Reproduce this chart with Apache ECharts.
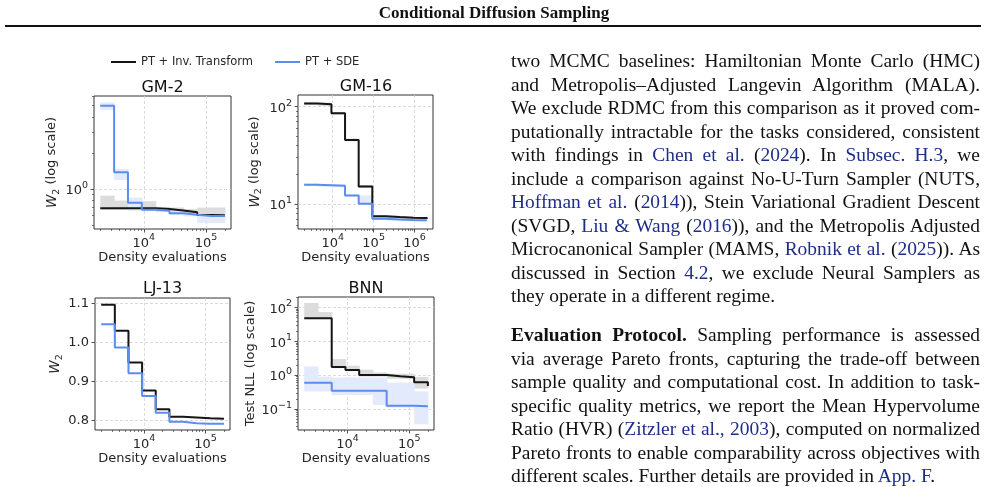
<!DOCTYPE html>
<html>
<head>
<meta charset="utf-8">
<script src="https://cdn.jsdelivr.net/npm/echarts@6/dist/echarts.min.js"></script>
<style>
body{margin:0;background:#fff;}
#main{position:absolute;left:0;top:0;width:988px;height:487px;}
#text{position:absolute;left:511px;top:0;width:469px;font-family:"Liberation Serif","Times New Roman",serif;font-size:19.45px;color:#111;}
.l{position:absolute;left:0;width:469px;height:24px;line-height:24px;white-space:nowrap;text-align:justify;text-align-last:justify;}
.l.last{text-align:left;text-align-last:left;}
#text a{color:#1f2d8a;text-decoration:none;}
</style>
</head>
<body>
<div id="main"></div>
<div id="text">
  <div class="l" style="top:49px">two MCMC baselines: Hamiltonian Monte Carlo (HMC)</div>
  <div class="l" style="top:72.5px">and Metropolis–Adjusted Langevin Algorithm (MALA).</div>
  <div class="l" style="top:96px">We exclude RDMC from this comparison as it proved com-</div>
  <div class="l" style="top:119.5px">putationally intractable for the tasks considered, consistent</div>
  <div class="l" style="top:143px">with findings in <a>Chen et al.</a> (<a>2024</a>). In <a>Subsec. H.3</a>, we</div>
  <div class="l" style="top:166.5px">include a comparison against No-U-Turn Sampler (NUTS,</div>
  <div class="l" style="top:190px"><a>Hoffman et al.</a> (<a>2014</a>)), Stein Variational Gradient Descent</div>
  <div class="l" style="top:213.5px">(SVGD, <a>Liu &amp; Wang</a> (<a>2016</a>)), and the Metropolis Adjusted</div>
  <div class="l" style="top:237px">Microcanonical Sampler (MAMS, <a>Robnik et al.</a> (<a>2025</a>)). As</div>
  <div class="l" style="top:260.5px">discussed in Section <a>4.2</a>, we exclude Neural Samplers as</div>
  <div class="l last" style="top:284px">they operate in a different regime.</div>
  <div class="l" style="top:323.3px"><b>Evaluation Protocol.</b> Sampling performance is assessed</div>
  <div class="l" style="top:346.8px">via average Pareto fronts, capturing the trade-off between</div>
  <div class="l" style="top:370.3px">sample quality and computational cost. In addition to task-</div>
  <div class="l" style="top:393.8px">specific quality metrics, we report the Mean Hypervolume</div>
  <div class="l" style="top:417.3px">Ratio (HVR) (<a>Zitzler et al., 2003</a>), computed on normalized</div>
  <div class="l" style="top:440.8px">Pareto fronts to enable comparability across objectives with</div>
  <div class="l last" style="top:464.3px">different scales. Further details are provided in <a>App. F</a>.</div>
</div>
<script>
// density evaluation grids (x positions of the steps)
var xShort = [2000, 3336, 5565, 9283, 15486, 25832, 43089, 71880, 119904, 200000];
var xLong = [2000, 4309, 9283, 20000, 43089, 92832, 200000, 430887, 928318, 2000000];

// GM-2
var gm2Inv   = [0.689, 0.689, 0.689, 0.689, 0.68, 0.66, 0.638, 0.606, 0.603, 0.603];
var gm2InvLo = [0.67, 0.67, 0.67, 0.67, 0.665, 0.645, 0.625, 0.56, 0.56, 0.56];
var gm2InvHi = [0.88, 0.80, 0.80, 0.79, 0.71, 0.70, 0.68, 0.70, 0.70, 0.70];
var gm2Sde   = [4.98, 1.38, 0.768, 0.671, 0.658, 0.626, 0.61, 0.594, 0.594, 0.594];
var gm2SdeLo = [4.6, 1.19, 0.66, 0.655, 0.64, 0.605, 0.59, 0.52, 0.52, 0.52];
var gm2SdeHi = [5.3, 1.47, 0.85, 0.70, 0.675, 0.645, 0.63, 0.615, 0.615, 0.615];

// GM-16
var gm16Inv   = [108, 106, 85.5, 45.5, 15.1, 7.42, 7.3, 7.2, 7.13, 7.0];
var gm16InvLo = [104, 102, 83, 44, 14.6, 7.2, 7.1, 7.0, 6.95, 6.85];
var gm16InvHi = [112, 110, 88, 47, 15.6, 7.6, 7.5, 7.4, 7.3, 7.15];
var gm16Sde   = [15.7, 15.5, 15.3, 12.2, 10.0, 7.0, 6.9, 6.8, 6.75, 6.7];
var gm16SdeLo = [15.2, 15.0, 14.8, 11.9, 9.9, 6.8, 6.7, 6.6, 6.55, 6.5];
var gm16SdeHi = [16.2, 16.0, 15.8, 12.5, 12.2, 7.2, 7.1, 7.0, 6.95, 6.9];

// LJ-13
var lj13Inv = [1.097, 1.030, 0.949, 0.877, 0.829, 0.810, 0.808, 0.806, 0.805, 0.805];
var lj13Sde = [1.047, 0.987, 0.921, 0.863, 0.820, 0.797, 0.793, 0.792, 0.792, 0.792];

// BNN
var bnnInv   = [48, 48, 1.75, 1.42, 1.0, 1.0, 0.92, 0.86, 0.62, 0.48];
var bnnInvLo = [45, 45, 1.6, 1.3, 0.9, 0.9, 0.78, 0.78, 0.4, 0.4];
var bnnInvHi = [135, 73, 3.0, 1.9, 1.45, 1.2, 1.1, 1.1, 0.88, 0.88];
var bnnSde   = [0.59, 0.59, 0.343, 0.343, 0.343, 0.343, 0.124, 0.124, 0.12, 0.12];
var bnnSdeLo = [0.33, 0.33, 0.26, 0.26, 0.26, 0.13, 0.11, 0.11, 0.035, 0.035];
var bnnSdeHi = [1.8, 0.9, 0.85, 0.85, 0.85, 0.85, 0.6, 0.6, 0.33, 0.33];

// tick labels
var xTicksShort = [1e4, 1e5];
var xTicksLong = [1e4, 1e5, 1e6];
var gm2YTicks = [1];
var gm16YTicks = [10, 100];
var lj13YTicks = [0.8, 0.9, 1.0, 1.1];
var bnnYTicks = [0.1, 1, 10, 100];

var INK = '#262626';
var BLACK = '#151515';
var BLUE = '#5b8def';
var FONT = 'DejaVu Sans';

// "10" with a raised exponent, like matplotlib's mathtext
function powLabel(v) {
  var e = Math.round(Math.log10(v));
  return '{b|10}{s|' + (e < 0 ? '−' + (-e) : e) + '}';
}
var powRich = {
  b: {fontSize: 13, fontFamily: FONT, color: INK, lineHeight: 17, verticalAlign: 'bottom'},
  s: {fontSize: 9.5, fontFamily: FONT, color: INK, lineHeight: 11, verticalAlign: 'top'}
};
function minorTicks(min, max) {
  var out = [];
  for (var e = Math.floor(Math.log10(min)); e <= Math.ceil(Math.log10(max)); e++) {
    for (var k = 2; k <= 9; k++) {
      var v = k * Math.pow(10, e);
      if (v >= min && v <= max) out.push(v);
    }
  }
  return out;
}
function pairs(xs, ys) { return xs.map(function (x, i) { return [x, ys[i]]; }); }
// one [x0, x1, lo, hi] item per step interval
function steps(xs, lo, hi) {
  var out = [];
  for (var i = 0; i < xs.length - 1; i++) out.push([xs[i], xs[i + 1], lo[i], hi[i]]);
  return out;
}

var W2LOG = '{i|W}{u|2}{n| (log scale)}';
var panels = [
  {title: 'GM-2', box: [94, 96, 137, 133], tx: 162.5, ty: 88, x: xShort, xMin: Math.pow(10, 3.2), xMax: Math.pow(10, 5.4), xTicks: xTicksShort,
   yLog: true, yMin: 0.463, yMax: 6.0, yTicks: gm2YTicks, yName: W2LOG, yGap: 31,
   inv: gm2Inv, invLo: gm2InvLo, invHi: gm2InvHi, sde: gm2Sde, sdeLo: gm2SdeLo, sdeHi: gm2SdeHi},
  {title: 'GM-16', box: [298, 95, 135, 134], tx: 366, ty: 87, x: xLong, xMin: Math.pow(10, 3.151), xMax: Math.pow(10, 6.451), xTicks: xTicksLong,
   yLog: true, yMin: 5.5, yMax: 131.9, yTicks: gm16YTicks, yName: W2LOG, yGap: 34,
   inv: gm16Inv, invLo: gm16InvLo, invHi: gm16InvHi, sde: gm16Sde, sdeLo: gm16SdeLo, sdeHi: gm16SdeHi},
  {title: 'LJ-13', box: [95, 298, 135, 132], tx: 162.5, ty: 288.5, x: xShort, xMin: Math.pow(10, 3.2), xMax: Math.pow(10, 5.4), xTicks: xTicksShort,
   yLog: false, yMin: 0.776, yMax: 1.114, yTicks: lj13YTicks, yName: '{i|W}{u|2}', yGap: 29,
   inv: lj13Inv, sde: lj13Sde},
  {title: 'BNN', box: [298, 297, 136, 133], tx: 366, ty: 288.5, x: xShort, xMin: Math.pow(10, 3.2), xMax: Math.pow(10, 5.4), xTicks: xTicksShort,
   yLog: true, yMin: 0.0239, yMax: 203, yTicks: bnnYTicks, yName: 'Test NLL (log scale)', yGap: 39,
   inv: bnnInv, invLo: bnnInvLo, invHi: bnnInvHi, sde: bnnSde, sdeLo: bnnSdeLo, sdeHi: bnnSdeHi}
];

var grids = [], xAxes = [], yAxes = [], series = [];
var graphics = [
  {type: 'text', x: 494, y: 14, style: {text: 'Conditional Diffusion Sampling', font: 'bold 17px "Liberation Serif"', fill: '#111', align: 'center', verticalAlign: 'middle'}},
  {type: 'line', shape: {x1: 5, y1: 26, x2: 981, y2: 26}, style: {stroke: '#111', lineWidth: 2}}
];
var tickStyle = {color: INK, width: 0.8};
var gridLine = {show: true, lineStyle: {type: [3, 2], color: '#d2d2d2', width: 0.8}};
var labelStyle = {fontSize: 13, color: INK, fontFamily: FONT};
var nameStyle = {
  fontSize: 13, fontFamily: FONT, color: INK,
  rich: {
    i: {fontStyle: 'italic', fontSize: 13.5, fontFamily: FONT, color: INK, lineHeight: 16, verticalAlign: 'top'},
    u: {fontSize: 9.5, fontFamily: FONT, color: INK, lineHeight: 16, verticalAlign: 'bottom', padding: [5, 0, 0, 0]},
    n: {fontSize: 13, fontFamily: FONT, color: INK, lineHeight: 16, verticalAlign: 'top'}
  }
};

panels.forEach(function (p, i) {
  grids.push({left: p.box[0], top: p.box[1], width: p.box[2], height: p.box[3], show: true, borderColor: '#333', borderWidth: 1, containLabel: false});
  graphics.push({type: 'text', x: p.tx, y: p.ty, style: {text: p.title, font: '16px "DejaVu Sans"', fill: '#111', align: 'center', verticalAlign: 'middle'}});

  xAxes.push({
    gridIndex: i, type: 'log', logBase: 10, min: p.xMin, max: p.xMax, position: 'bottom',
    axisLine: {show: false, onZero: false},
    axisTick: {show: true, length: 3.5, lineStyle: tickStyle, customValues: p.xTicks},
    axisLabel: Object.assign({customValues: p.xTicks, formatter: powLabel, margin: 4, rich: powRich}, labelStyle),
    splitLine: gridLine,
    name: 'Density evaluations', nameLocation: 'middle', nameGap: 21, nameTextStyle: labelStyle
  });
  xAxes.push({
    gridIndex: i, type: 'log', logBase: 10, min: p.xMin, max: p.xMax, position: 'bottom',
    axisLine: {show: false, onZero: false},
    axisTick: {show: true, length: 2, lineStyle: {color: INK, width: 0.6}, customValues: minorTicks(p.xMin, p.xMax)},
    axisLabel: {show: false}, splitLine: {show: false}
  });

  yAxes.push({
    gridIndex: i, type: p.yLog ? 'log' : 'value', logBase: 10, min: p.yMin, max: p.yMax, position: 'left',
    axisLine: {show: false, onZero: false},
    axisTick: {show: true, length: 3.5, lineStyle: tickStyle, customValues: p.yTicks},
    axisLabel: Object.assign({customValues: p.yTicks, margin: 6, rich: powRich,
      formatter: p.yLog ? powLabel : function (v) { return v.toFixed(1); }}, labelStyle),
    splitLine: gridLine,
    name: p.yName, nameLocation: 'middle', nameGap: p.yGap, nameRotate: 90, nameTextStyle: nameStyle
  });
  yAxes.push({
    gridIndex: i, type: p.yLog ? 'log' : 'value', logBase: 10, min: p.yMin, max: p.yMax, position: 'left',
    axisLine: {show: false, onZero: false},
    axisTick: {show: p.yLog, length: 2, lineStyle: {color: INK, width: 0.6}, customValues: p.yLog ? minorTicks(p.yMin, p.yMax) : []},
    axisLabel: {show: false}, splitLine: {show: false}
  });

  var ax = {xAxisIndex: 2 * i, yAxisIndex: 2 * i};
  function band(lo, hi, color) {
    series.push(Object.assign({
      type: 'custom', data: steps(p.x, lo, hi), silent: true, clip: true, z: 1,
      encode: {x: [0, 1], y: [2, 3]},
      renderItem: function (params, api) {
        var a = api.coord([api.value(0), api.value(3)]);
        var b = api.coord([api.value(1), api.value(2)]);
        return {type: 'rect', shape: {x: a[0], y: a[1], width: b[0] - a[0] + 0.6, height: b[1] - a[1]}, style: {fill: color}};
      }
    }, ax));
  }
  if (p.invLo) band(p.invLo, p.invHi, '#dcdcdc');
  if (p.sdeLo) band(p.sdeLo, p.sdeHi, '#e2eafb');

  series.push(Object.assign({type: 'line', name: 'PT + Inv. Transform', step: 'end', data: pairs(p.x, p.inv), symbol: 'none',
    lineStyle: {color: BLACK, width: 2}, itemStyle: {color: BLACK}, z: 4}, ax));
  series.push(Object.assign({type: 'line', name: 'PT + SDE', step: 'end', data: pairs(p.x, p.sde), symbol: 'none',
    lineStyle: {color: BLUE, width: 2}, itemStyle: {color: BLUE}, z: 5}, ax));
});

var chart = echarts.init(document.getElementById('main'));
chart.setOption({
  animation: false,
  backgroundColor: '#fff',
  legend: {
    data: ['PT + Inv. Transform', 'PT + SDE'], left: 106, top: 51, icon: 'rect', itemWidth: 25, itemHeight: 2, itemGap: 22,
    textStyle: {fontSize: 11.5, color: INK, fontFamily: FONT}
  },
  grid: grids,
  xAxis: xAxes,
  yAxis: yAxes,
  graphic: graphics,
  series: series
});
</script>
</body>
</html>
